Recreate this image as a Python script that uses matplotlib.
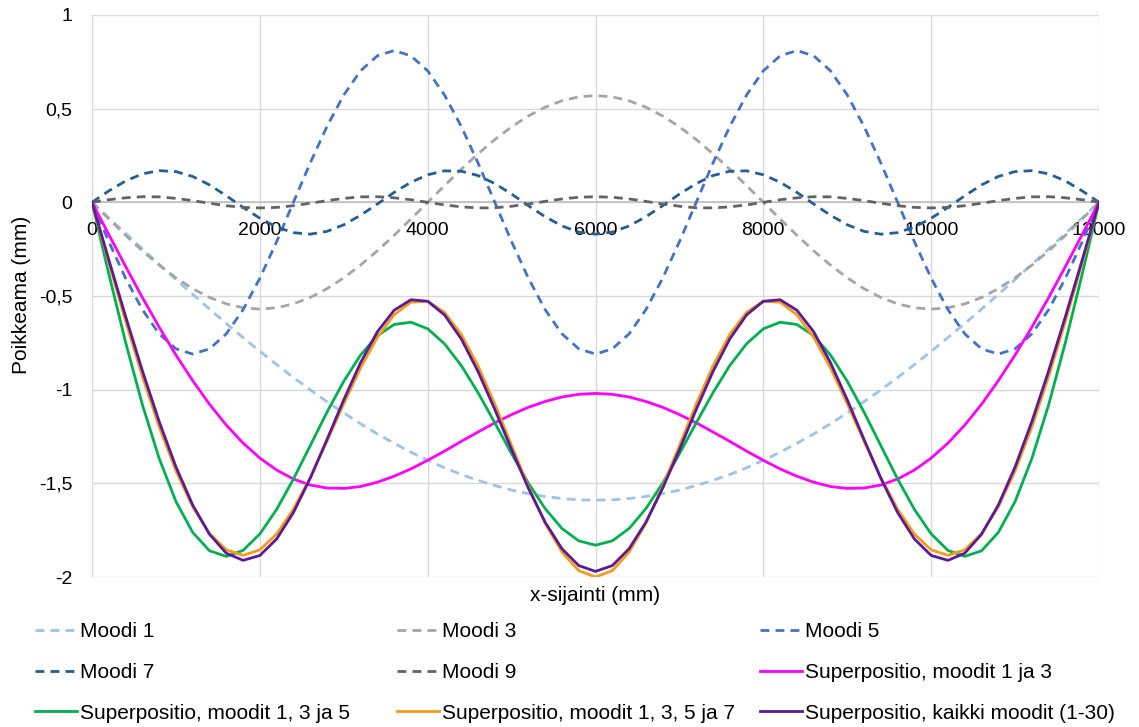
import matplotlib
matplotlib.use("Agg")
import matplotlib.pyplot as plt
from matplotlib.ticker import FuncFormatter

plt.rcParams['font.family'] = ['Liberation Sans', 'DejaVu Sans']

# sample positions along the beam (mm)
x_mm = list(range(0, 12001, 200))

moodi_1 = [0, -0.083, -0.166, -0.249, -0.331, -0.412, -0.491, -0.570, -0.647, -0.722, -0.795,
           -0.866, -0.935, -1.001, -1.064, -1.124, -1.182, -1.236, -1.286, -1.334, -1.377,
           -1.417, -1.453, -1.484, -1.512, -1.536, -1.555, -1.570, -1.581, -1.588, -1.590,
           -1.588, -1.581, -1.570, -1.555, -1.536, -1.512, -1.484, -1.453, -1.417, -1.377,
           -1.334, -1.286, -1.236, -1.182, -1.124, -1.064, -1.001, -0.935, -0.866, -0.795,
           -0.722, -0.647, -0.570, -0.491, -0.412, -0.331, -0.249, -0.166, -0.083, 0]

moodi_3 = [0, -0.089, -0.176, -0.259, -0.335, -0.403, -0.461, -0.508, -0.542, -0.563, -0.570,
           -0.563, -0.542, -0.508, -0.461, -0.403, -0.335, -0.259, -0.176, -0.089, 0,
           0.089, 0.176, 0.259, 0.335, 0.403, 0.461, 0.508, 0.542, 0.563, 0.570,
           0.563, 0.542, 0.508, 0.461, 0.403, 0.335, 0.259, 0.176, 0.089, 0,
           -0.089, -0.176, -0.259, -0.335, -0.403, -0.461, -0.508, -0.542, -0.563, -0.570,
           -0.563, -0.542, -0.508, -0.461, -0.403, -0.335, -0.259, -0.176, -0.089, 0]

moodi_5 = [0, -0.210, -0.405, -0.573, -0.702, -0.782, -0.810, -0.782, -0.702, -0.573, -0.405,
           -0.210, 0, 0.210, 0.405, 0.573, 0.702, 0.782, 0.810, 0.782, 0.702,
           0.573, 0.405, 0.210, 0, -0.210, -0.405, -0.573, -0.702, -0.782, -0.810,
           -0.782, -0.702, -0.573, -0.405, -0.210, 0, 0.210, 0.405, 0.573, 0.702,
           0.782, 0.810, 0.782, 0.702, 0.573, 0.405, 0.210, 0, -0.210, -0.405,
           -0.573, -0.702, -0.782, -0.810, -0.782, -0.702, -0.573, -0.405, -0.210, 0]

moodi_7 = [0, 0.061, 0.114, 0.152, 0.169, 0.164, 0.138, 0.093, 0.035, -0.027, -0.085,
           -0.132, -0.162, -0.170, -0.155, -0.120, -0.069, -0.009, 0.053, 0.107, 0.147,
           0.168, 0.166, 0.143, 0.100, 0.044, -0.018, -0.077, -0.126, -0.159, -0.170,
           -0.159, -0.126, -0.077, -0.018, 0.044, 0.100, 0.143, 0.166, 0.168, 0.147,
           0.107, 0.053, -0.009, -0.069, -0.120, -0.155, -0.170, -0.162, -0.132, -0.085,
           -0.027, 0.035, 0.093, 0.138, 0.164, 0.169, 0.152, 0.114, 0.061, 0]

moodi_9 = [0, 0.014, 0.024, 0.030, 0.029, 0.021, 0.009, -0.005, -0.018, -0.027, -0.030,
           -0.027, -0.018, -0.005, 0.009, 0.021, 0.029, 0.030, 0.024, 0.014, 0,
           -0.014, -0.024, -0.030, -0.029, -0.021, -0.009, 0.005, 0.018, 0.027, 0.030,
           0.027, 0.018, 0.005, -0.009, -0.021, -0.029, -0.030, -0.024, -0.014, 0,
           0.014, 0.024, 0.030, 0.029, 0.021, 0.009, -0.005, -0.018, -0.027, -0.030,
           -0.027, -0.018, -0.005, 0.009, 0.021, 0.029, 0.030, 0.024, 0.014, 0]

sup_1_3 = [0, -0.172, -0.342, -0.508, -0.666, -0.815, -0.952, -1.078, -1.189, -1.285, -1.365,
           -1.429, -1.477, -1.509, -1.525, -1.527, -1.517, -1.494, -1.462, -1.423, -1.377,
           -1.328, -1.276, -1.226, -1.177, -1.133, -1.094, -1.063, -1.039, -1.025, -1.020,
           -1.025, -1.039, -1.063, -1.094, -1.133, -1.177, -1.226, -1.276, -1.328, -1.377,
           -1.423, -1.462, -1.494, -1.517, -1.527, -1.525, -1.509, -1.477, -1.429, -1.365,
           -1.285, -1.189, -1.078, -0.952, -0.815, -0.666, -0.508, -0.342, -0.172, 0]

sup_1_3_5 = [0, -0.382, -0.747, -1.080, -1.367, -1.597, -1.762, -1.860, -1.890, -1.858, -1.770,
             -1.639, -1.477, -1.299, -1.120, -0.955, -0.815, -0.712, -0.652, -0.640, -0.675,
             -0.755, -0.871, -1.016, -1.177, -1.342, -1.499, -1.635, -1.741, -1.807, -1.830,
             -1.807, -1.741, -1.635, -1.499, -1.342, -1.177, -1.016, -0.871, -0.755, -0.675,
             -0.640, -0.652, -0.712, -0.815, -0.955, -1.120, -1.299, -1.477, -1.639, -1.770,
             -1.858, -1.890, -1.860, -1.762, -1.597, -1.367, -1.080, -0.747, -0.382, 0]

sup_1_3_5_7 = [0, -0.321, -0.634, -0.929, -1.198, -1.433, -1.625, -1.768, -1.855, -1.884, -1.855,
               -1.771, -1.638, -1.469, -1.275, -1.075, -0.884, -0.721, -0.600, -0.533, -0.528,
               -0.587, -0.705, -0.873, -1.077, -1.298, -1.517, -1.713, -1.867, -1.966, -2.000,
               -1.966, -1.867, -1.713, -1.517, -1.298, -1.077, -0.873, -0.705, -0.587, -0.528,
               -0.533, -0.600, -0.721, -0.884, -1.075, -1.275, -1.469, -1.638, -1.771, -1.855,
               -1.884, -1.855, -1.768, -1.625, -1.433, -1.198, -0.929, -0.634, -0.321, 0]

sup_kaikki = [0, -0.307, -0.609, -0.899, -1.170, -1.412, -1.616, -1.772, -1.873, -1.911, -1.885,
              -1.797, -1.656, -1.473, -1.266, -1.054, -0.856, -0.691, -0.576, -0.520, -0.528,
              -0.601, -0.729, -0.903, -1.106, -1.320, -1.526, -1.708, -1.849, -1.939, -1.970,
              -1.939, -1.849, -1.708, -1.526, -1.320, -1.106, -0.903, -0.729, -0.601, -0.528,
              -0.520, -0.576, -0.691, -0.856, -1.054, -1.266, -1.473, -1.656, -1.797, -1.885,
              -1.911, -1.873, -1.772, -1.616, -1.412, -1.170, -0.899, -0.609, -0.307, 0]

series = [
    ("Moodi 1", moodi_1, "#9DC3E6", "--"),
    ("Moodi 3", moodi_3, "#A5A5A5", "--"),
    ("Moodi 5", moodi_5, "#4472C4", "--"),
    ("Moodi 7", moodi_7, "#255E91", "--"),
    ("Moodi 9", moodi_9, "#636363", "--"),
    ("Superpositio, moodit 1 ja 3", sup_1_3, "#FF00FF", "-"),
    ("Superpositio, moodit 1, 3 ja 5", sup_1_3_5, "#00B050", "-"),
    ("Superpositio, moodit 1, 3, 5 ja 7", sup_1_3_5_7, "#F59B16", "-"),
    ("Superpositio, kaikki moodit (1-30)", sup_kaikki, "#5B1A9A", "-"),
]

fig = plt.figure(figsize=(11.39, 7.27), dpi=100)
ax = fig.add_axes([0.0808, 0.2063, 0.8841, 0.7731])

handles = []
for label, vals, color, ls in series:
    if ls == "--":
        h, = ax.plot(x_mm, vals, color=color, lw=2.0, dashes=(3.2, 2.2), label=label,
                     solid_joinstyle="round", dash_joinstyle="round")
    else:
        h, = ax.plot(x_mm, vals, color=color, lw=2.0, label=label, solid_joinstyle="round")
    handles.append(h)

ax.set_xlim(0, 12000)
ax.set_ylim(-2, 1)
ax.set_xticks(range(0, 12001, 2000))
ax.set_yticks([-2, -1.5, -1, -0.5, 0, 0.5, 1])
ax.yaxis.set_major_formatter(FuncFormatter(lambda v, p: ("%g" % v).replace(".", ",")))
ax.grid(True, color="#D9D9D9", lw=1.0)
ax.set_axisbelow(True)

for s in ["top", "right", "left"]:
    ax.spines[s].set_visible(False)
ax.spines["bottom"].set_position(("data", 0))
ax.spines["bottom"].set_color("#BFBFBF")
ax.spines["bottom"].set_linewidth(1.2)
ax.spines["bottom"].set_zorder(1.5)

ax.tick_params(axis="x", length=0, pad=14, labelsize=14, colors="#000000")
ax.tick_params(axis="y", length=0, pad=14, labelsize=14, colors="#000000")

ax.text(0.5, -0.016, "x-sijainti (mm)", transform=ax.transAxes, ha="center", va="top", fontsize=15)
fig.text(0.019, 0.594, "Poikkeama (mm)", rotation=90, ha="center", va="center", fontsize=15)

# legend: three columns placed at Excel's even spacing
col_x = [35, 397, 760]
for c in range(3):
    idx = [c, c + 3, c + 6]
    fig.legend([handles[i] for i in idx], [series[i][0] for i in idx],
               loc="upper left", bbox_to_anchor=(col_x[c] / 1139, 1 - 622 / 727),
               frameon=False, fontsize=15, handlelength=2.0, handletextpad=0.15,
               borderpad=0, borderaxespad=0, labelspacing=1.05)

fig.savefig("out.png", dpi=100)
